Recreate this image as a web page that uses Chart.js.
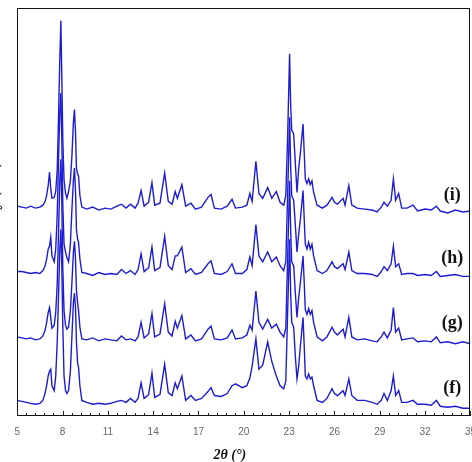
<!DOCTYPE html>
<html>
<head>
<meta charset="utf-8">
<script src="https://cdn.jsdelivr.net/npm/chart.js@4.4.0/dist/chart.umd.min.js"></script>
<style>
  html, body { margin: 0; padding: 0; background: #fff; overflow: hidden; width: 472px; height: 462px; }
  #wrap { position: absolute; left: -20px; top: 0; width: 506px; height: 462px; }
</style>
</head>
<body>
<div id="wrap"><canvas id="xrd"></canvas></div>
<script>
// ----- data (2theta in degrees, intensity in arbitrary stacked units) -----
var twoTheta = [
  5.0, 5.3, 5.6, 5.9, 6.2, 6.5, 6.7, 6.85, 6.95, 7.05,
  7.14, 7.22, 7.3, 7.45, 7.55, 7.65, 7.74, 7.82, 7.89, 7.95,
  8.02, 8.1, 8.2, 8.29, 8.4, 8.52, 8.62, 8.72, 8.79, 8.86,
  8.92, 9.0, 9.06, 9.15, 9.28, 9.6, 10.0, 10.4, 10.8, 11.2,
  11.6, 11.9, 12.2, 12.5, 12.8, 13.0, 13.2, 13.4, 13.7, 13.92,
  14.1, 14.45, 14.76, 15.0, 15.25, 15.46, 15.6, 15.9, 16.15, 16.5,
  16.8, 17.2, 17.63, 17.83, 18.05, 18.5, 18.9, 19.22, 19.45, 19.9,
  20.2, 20.4, 20.55, 20.8, 21.0, 21.25, 21.58, 21.85, 22.15, 22.4,
  22.64, 22.78, 22.9, 23.03, 23.1, 23.17, 23.3, 23.41, 23.52, 23.63,
  23.74, 23.92, 24.0, 24.07, 24.18, 24.29, 24.4, 24.51, 24.62, 24.85,
  25.2, 25.5, 25.84, 26.0, 26.2, 26.57, 26.7, 26.95, 27.15, 27.5,
  28.0, 28.5, 28.82, 29.1, 29.28, 29.5, 29.75, 29.9, 30.05, 30.25,
  30.45, 30.8, 31.2, 31.5, 32.0, 32.4, 32.75, 33.0, 33.5, 34.0,
  34.5, 35.0
];

var intensityF = [
  16, 15, 14, 13, 12, 13, 16, 24, 31, 41,
  46, 48, 31, 26, 41, 76, 126, 171, 191, 156,
  91, 41, 26, 23, 26, 46, 81, 116, 126, 111,
  76, 54, 50, 31, 16, 14, 12, 13, 12, 13,
  15, 16, 14, 18, 14, 18, 34, 18, 22, 44,
  19, 22, 53, 24, 21, 34, 28, 41, 16, 21,
  16, 18, 25, 29, 21, 20, 23, 31, 33, 29,
  31, 39, 51, 79, 48, 52, 76, 56, 41, 31,
  28, 36, 106, 181, 126, 96, 91, 61, 38, 51,
  71, 101, 71, 41, 38, 43, 38, 40, 31, 16,
  14, 18, 28, 23, 21, 26, 21, 38, 21, 16,
  16, 14, 12, 16, 23, 16, 26, 41, 21, 26,
  14, 14, 16, 12, 12, 11, 16, 10, 9, 10,
  8, 8
];

var intensityG = [
  81, 80, 79, 80, 78, 79, 82, 88, 96, 106,
  111, 101, 90, 93, 106, 136, 191, 241, 263, 221,
  151, 108, 93, 89, 91, 108, 136, 168, 179, 161,
  129, 116, 108, 91, 79, 78, 80, 77, 79, 78,
  77, 82, 78, 79, 77, 81, 96, 80, 84, 105,
  81, 84, 115, 86, 82, 97, 90, 103, 79, 83,
  77, 79, 89, 92, 79, 78, 80, 88, 79, 80,
  83, 93, 88, 128, 96, 89, 99, 90, 94, 86,
  81, 90, 161, 241, 191, 158, 154, 126, 101, 121,
  136, 164, 136, 109, 104, 110, 104, 108, 96, 81,
  77, 81, 91, 86, 83, 89, 81, 101, 81, 78,
  79, 77, 76, 81, 86, 80, 88, 111, 86, 90,
  78, 79, 80, 76, 77, 76, 81, 75, 76, 74,
  76, 74
];

var intensityH = [
  148, 148, 147, 146, 147, 146, 149, 154, 161, 171,
  174, 183, 164, 158, 171, 206, 266, 311, 331, 286,
  216, 176, 168, 162, 158, 176, 211, 241, 254, 231,
  191, 181, 178, 161, 147, 146, 144, 147, 145, 146,
  145, 150, 146, 149, 145, 150, 166, 148, 152, 173,
  149, 152, 184, 154, 150, 164, 164, 173, 147, 151,
  145, 147, 156, 159, 146, 145, 148, 156, 146, 146,
  150, 163, 154, 196, 164, 158, 168, 158, 163, 154,
  149, 158, 226, 306, 256, 226, 221, 196, 168, 186,
  201, 231, 201, 176, 171, 178, 171, 176, 164, 149,
  146, 149, 158, 153, 151, 156, 150, 168, 149, 146,
  146, 145, 143, 148, 153, 149, 156, 174, 153, 156,
  145, 146, 146, 144, 145, 144, 148, 143, 144, 145,
  143, 143
];

var intensityI = [
  215, 214, 213, 215, 213, 214, 216, 220, 226, 236,
  250, 233, 223, 224, 230, 252, 309, 365, 405, 350,
  282, 242, 228, 223, 230, 241, 266, 301, 314, 291,
  254, 248, 246, 226, 214, 212, 214, 211, 213, 212,
  215, 217, 213, 217, 213, 218, 231, 215, 219, 239,
  216, 218, 249, 220, 217, 230, 223, 237, 215, 218,
  212, 214, 224, 227, 213, 212, 215, 222, 213, 214,
  216, 228, 220, 261, 228, 223, 234, 223, 230, 219,
  216, 226, 286, 371, 319, 293, 289, 259, 229, 253,
  269, 299, 269, 243, 238, 243, 237, 241, 229, 216,
  213, 216, 224, 219, 217, 223, 216, 236, 216, 213,
  212, 211, 209, 214, 219, 215, 221, 243, 221, 228,
  213, 213, 216, 210, 212, 211, 215, 210, 208, 211,
  209, 210
];

var seriesNames = ["(f)", "(g)", "(h)", "(i)"];
// where each sample tag sits, in data units
var tagTheta = 33.8;
var tagLevel = [28, 95, 162, 226];

var LINE_COLOR = "rgb(28, 28, 212)";

function toPoints(values) {
  return twoTheta.map(function(t, i) { return { x: t, y: values[i] }; });
}

// Plot frame round the chart area
var framePlugin = {
  id: "frame",
  afterDraw: function(chart) {
    var a = chart.chartArea;
    var ctx = chart.ctx;
    ctx.save();
    ctx.strokeStyle = "#111";
    ctx.lineWidth = 1;
    ctx.strokeRect(Math.round(a.left) + 0.5, Math.round(a.top) + 0.5,
      Math.round(a.right - a.left) - 1, Math.round(a.bottom - a.top) - 1);
    ctx.restore();
  }
};

// Tick marks pointing into the plot, long on labelled ticks, short between
var innerTicksPlugin = {
  id: "innerTicks",
  afterDraw: function(chart) {
    var sc = chart.scales.x;
    var ctx = chart.ctx;
    var bottom = Math.round(chart.chartArea.bottom);
    ctx.save();
    ctx.strokeStyle = "#222";
    ctx.lineWidth = 1;
    sc.ticks.forEach(function(tk, i) {
      var px = Math.round(sc.getPixelForValue(tk.value)) + 0.5;
      var len = (i % 5 === 0) ? 5 : 3;
      ctx.beginPath();
      ctx.moveTo(px, bottom);
      ctx.lineTo(px, bottom - len);
      ctx.stroke();
    });
    ctx.restore();
  }
};

// Sample tags (f) ... (i) at the right end of each trace
var tagsPlugin = {
  id: "tags",
  afterDatasetsDraw: function(chart) {
    var ctx = chart.ctx;
    var xs = chart.scales.x, ys = chart.scales.y;
    ctx.save();
    ctx.fillStyle = "#111";
    ctx.font = "bold 18px 'Liberation Serif', 'DejaVu Serif', serif";
    ctx.textAlign = "center";
    ctx.textBaseline = "middle";
    for (var i = 0; i < seriesNames.length; i++) {
      ctx.fillText(seriesNames[i], xs.getPixelForValue(tagTheta), ys.getPixelForValue(tagLevel[i]));
    }
    ctx.restore();
  }
};

var datasets = [intensityF, intensityG, intensityH, intensityI].map(function(vals, i) {
  return {
    label: seriesNames[i],
    data: toPoints(vals),
    borderColor: LINE_COLOR,
    borderWidth: 1.4,
    pointRadius: 0,
    tension: 0,
    fill: false
  };
});

new Chart(document.getElementById("xrd"), {
  type: "line",
  data: { datasets: datasets },
  options: {
    responsive: true,
    maintainAspectRatio: false,
    animation: false,
    layout: { padding: { left: 4, right: 0, top: 8, bottom: 0 } },
    plugins: { legend: { display: false }, tooltip: { enabled: false } },
    scales: {
      x: {
        type: "linear",
        min: 5,
        max: 35,
        border: { display: false },
        grid: { display: false, drawTicks: false },
        ticks: {
          stepSize: 0.6,
          autoSkip: false,
          maxRotation: 0,
          padding: 10,
          color: "#666",
          font: { family: "'Liberation Sans', Arial, sans-serif", size: 10, lineHeight: 1.2 },
          callback: function(value, index) {
            return index % 5 === 0 ? String(Math.round(value)) : "";
          }
        },
        title: {
          display: true,
          text: "2θ (°)        ",
          color: "#111",
          padding: { top: 0, bottom: 0 },
          font: { family: "'Liberation Serif', 'DejaVu Serif', serif", size: 14, weight: "bold", style: "italic", lineHeight: 1 }
        }
      },
      y: {
        min: 0,
        max: 418,
        border: { display: false },
        grid: { display: false, drawTicks: false },
        ticks: { display: false },
        title: {
          display: true,
          text: "Intensity (a.u.)",
          color: "#111",
          padding: { top: 0, bottom: 14 },
          font: { family: "'Liberation Serif', 'DejaVu Serif', serif", size: 16, weight: "bold" }
        }
      }
    }
  },
  plugins: [framePlugin, innerTicksPlugin, tagsPlugin]
});
</script>
</body>
</html>
